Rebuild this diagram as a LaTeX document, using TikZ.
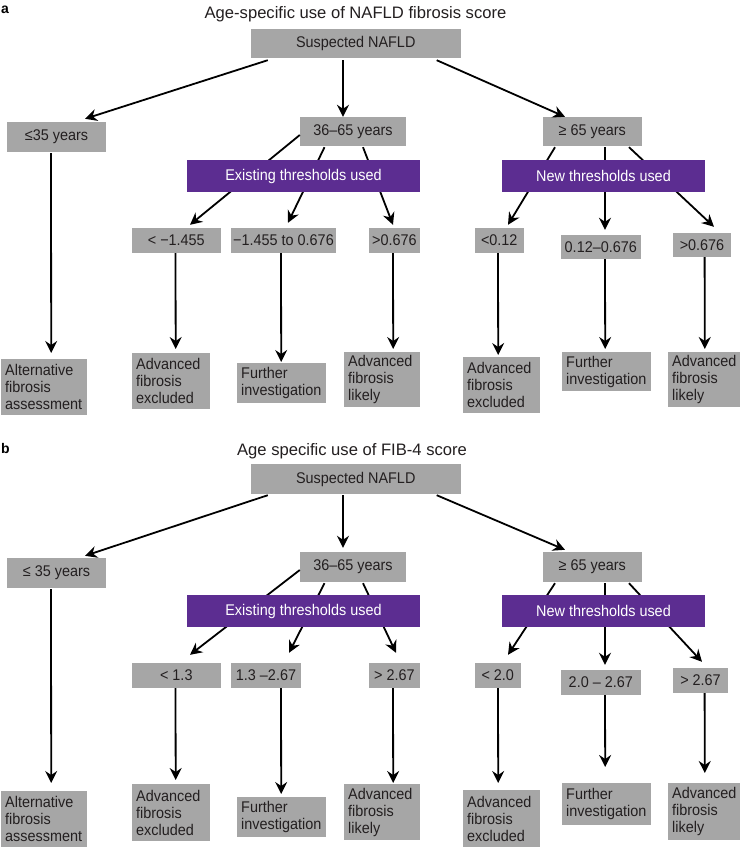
\documentclass[tikz,border=0pt]{standalone}
\usepackage{fontspec}
\setmainfont{Liberation Sans}[FakeStretch=0.93]
\newfontfamily\titlefont{Liberation Sans}
\usetikzlibrary{arrows.meta,calc}
\definecolor{boxgray}{HTML}{A6A6A6}
\definecolor{boxpurple}{HTML}{5C2D91}
\definecolor{txt}{HTML}{231F20}
\tikzset{
  gbox/.style={fill=boxgray, text=txt, inner sep=0pt, font=\fontsize{15.5}{17}\selectfont},
  pbox/.style={fill=boxpurple, text=white, inner sep=0pt, font=\fontsize{15.5}{17}\selectfont},
  rbox/.style={gbox, align=left, anchor=north west, inner xsep=4pt},
  arr/.style={line width=1.8pt, -{Stealth[length=12pt,width=12pt,inset=4pt]}},
  ttl/.style={font=\titlefont\fontsize{16.6}{19}\selectfont, text=txt},
  plabel/.style={font=\titlefont\bfseries\fontsize{14}{16}\selectfont, anchor=base west, text=black, inner sep=0pt}
}
\begin{document}
\begin{tikzpicture}[x=1pt,y=-1pt]
\useasboundingbox (0,0) rectangle (744,847);
\fill[white] (0,0) rectangle (744,847);

%% ---------------- Panel a ----------------
\node[plabel] (alab) at (1,13) {a};
\node[ttl] (atitle) at (355.5,14) {Age-specific use of NAFLD fibrosis score};
\node[gbox, minimum width=210.5pt, minimum height=29pt] (asus) at (355.75,43.5) {Suspected NAFLD};
\node[gbox, minimum width=99pt, minimum height=30pt] (ale) at (56.5,137) {≤35 years};
\node[gbox, minimum width=106pt, minimum height=29pt] (amid) at (353,131.5) {36–65 years};
\node[gbox, minimum width=98.5pt, minimum height=29pt] (age) at (592.25,131.5) {≥ 65 years};

\node[gbox, minimum width=88.6pt, minimum height=25pt] (at1) at (176.3,240.5) {< −1.455};
\node[gbox, minimum width=105pt, minimum height=25pt] (at2) at (283.5,240.5) {−1.455 to 0.676};
\node[gbox, minimum width=51.3pt, minimum height=25pt] (at3) at (394.35,240.5) {>0.676};
\node[gbox, minimum width=49.5pt, minimum height=25pt] (at4) at (499.25,240.5) {<0.12};
\node[gbox, minimum width=79.6pt, minimum height=24pt] (at5) at (600.8,247) {0.12–0.676};
\node[gbox, minimum width=58pt, minimum height=24pt] (at6) at (702,245) {>0.676};

\node[rbox, text width=78pt, minimum height=56pt] (ar0) at (1,359) {Alternative\\fibrosis\\assessment};
\node[rbox, text width=70pt, minimum height=56pt] (ar1) at (132,353) {Advanced\\fibrosis\\excluded};
\node[rbox, text width=81pt, minimum height=40pt] (ar2) at (237,363) {Further\\investigation};
\node[rbox, text width=68pt, minimum height=55pt] (ar3) at (344,352) {Advanced\\fibrosis\\likely};
\node[rbox, text width=69pt, minimum height=56pt] (ar4) at (463,357) {Advanced\\fibrosis\\excluded};
\node[rbox, text width=81pt, minimum height=39pt] (ar5) at (562,352) {Further\\investigation};
\node[rbox, text width=64pt, minimum height=55pt] (ar6) at (668,352) {Advanced\\fibrosis\\likely};

\draw[arr] ($(asus.south west)+(17.5,2)$) -- ($(ale.north)+(28.5,-3)$);
\draw[arr] ($(asus.south)+(-12.75,2)$) -- ($(amid.north)+(-10,0)$);
\draw[arr] ($(asus.south east)+(-24.5,2)$) -- ($(age.north)+(-27.25,0)$);

\draw[arr] ($(amid.west)+(0,3.5)$) -- ($(at1.north)+(13.7,-3)$);
\draw[arr] ($(amid.south)+(-28.5,1)$) -- ($(at2.north)+(4.5,-5)$);
\draw[arr] ($(amid.south)+(10,1)$) -- ($(at3.north)+(-1.35,-3)$);
\draw[arr] ($(age.south)+(-37.25,1)$) -- ($(at4.north)+(8.75,-3)$);
\draw[arr] ($(age.south)+(12.75,1)$) -- ($(at5.north)+(4.2,-5)$);
\draw[arr] ($(age.south)+(36.75,1)$) -- ($(at6.north)+(12,-6)$);

\node[pbox, minimum width=233pt, minimum height=32pt] (aex) at (303.5,176) {Existing thresholds used};
\node[pbox, minimum width=203pt, minimum height=32pt] (anw) at (603.5,176) {New thresholds used};

\draw[arr] ($(ale.south)+(-5.5,1)$) -- ($(ar0.north)+(7,-6)$);
\draw[arr] ($(at1.south)+(-0.8,0)$) -- ($(ar1.north)+(4.5,-4)$);
\draw[arr] ($(at2.south)+(-2.5,0)$) -- ($(ar2.north)+(-0.5,-1)$);
\draw[arr] ($(at3.south)+(-1.35,0)$) -- ($(ar3.north)+(11,-3)$);
\draw[arr] ($(at4.south)+(-1.25,0)$) -- ($(ar4.north)+(-3.5,-2)$);
\draw[arr] ($(at5.south)+(4.2,0)$) -- ($(ar5.north)+(-1.5,-3)$);
\draw[arr] ($(at6.south)+(2.6,0)$) -- ($(ar6.north)+(0.6,-3)$);

%% ---------------- Panel b ----------------
\node[plabel] (blab) at (1,453) {b};
\node[ttl] (btitle) at (352,451) {Age specific use of FIB-4 score};
\node[gbox, minimum width=210.5pt, minimum height=30pt] (bsus) at (355.75,479) {Suspected NAFLD};
\node[gbox, minimum width=99pt, minimum height=30pt] (ble) at (56.5,573) {≤ 35 years};
\node[gbox, minimum width=106pt, minimum height=30pt] (bmid) at (353,567) {36–65 years};
\node[gbox, minimum width=98.5pt, minimum height=30pt] (bge) at (592.25,567) {≥ 65 years};

\node[gbox, minimum width=88.6pt, minimum height=25pt] (bt1) at (176.3,675.5) {< 1.3};
\node[gbox, minimum width=70pt, minimum height=25pt] (bt2) at (266,675.5) {1.3 –2.67};
\node[gbox, minimum width=51.3pt, minimum height=25pt] (bt3) at (394.35,675.5) {> 2.67};
\node[gbox, minimum width=46.5pt, minimum height=25pt] (bt4) at (497.75,675.5) {< 2.0};
\node[gbox, minimum width=79.6pt, minimum height=25pt] (bt5) at (600.8,682.5) {2.0 – 2.67};
\node[gbox, minimum width=55pt, minimum height=25pt] (bt6) at (700.5,680.5) {> 2.67};

\node[rbox, text width=78pt, minimum height=56pt] (br0) at (1,791) {Alternative\\fibrosis\\assessment};
\node[rbox, text width=70pt, minimum height=57pt] (br1) at (132,784) {Advanced\\fibrosis\\excluded};
\node[rbox, text width=81pt, minimum height=40pt] (br2) at (237,797) {Further\\investigation};
\node[rbox, text width=68pt, minimum height=56pt] (br3) at (344,784) {Advanced\\fibrosis\\likely};
\node[rbox, text width=69pt, minimum height=57pt] (br4) at (463,790) {Advanced\\fibrosis\\excluded};
\node[rbox, text width=81pt, minimum height=42pt] (br5) at (562,783) {Further\\investigation};
\node[rbox, text width=64pt, minimum height=57pt] (br6) at (668,783) {Advanced\\fibrosis\\likely};

\draw[arr] ($(bsus.south west)+(17.5,1)$) -- ($(ble.north)+(28.5,-2)$);
\draw[arr] ($(bsus.south)+(-12.75,1)$) -- ($(bmid.north)+(-10,-4)$);
\draw[arr] ($(bsus.south east)+(-24.5,1)$) -- ($(bge.north)+(-27.25,-2)$);

\draw[arr] ($(bmid.west)+(0,3)$) -- ($(bt1.north)+(13.7,-8)$);
\draw[arr] ($(bmid.south)+(-28.5,1)$) -- ($(bt2.north)+(23,-10)$);
\draw[arr] ($(bmid.south)+(10,1)$) -- ($(bt3.north)+(1.65,-10)$);
\draw[arr] ($(bge.south)+(-37.25,1)$) -- ($(bt4.north)+(10.25,-8)$);
\draw[arr] ($(bge.south)+(12.75,1)$) -- ($(bt5.north)+(4.2,-5)$);
\draw[arr] ($(bge.south)+(36.75,1)$) -- ($(bt6.north)+(1.5,-6)$);

\node[pbox, minimum width=233pt, minimum height=32pt] (bex) at (303.5,611) {Existing thresholds used};
\node[pbox, minimum width=203pt, minimum height=32pt] (bnw) at (603.5,611) {New thresholds used};

\draw[arr] ($(ble.south)+(-5.5,1)$) -- ($(br0.north)+(7,-8)$);
\draw[arr] ($(bt1.south)+(-0.8,0)$) -- ($(br1.north)+(4.5,-4)$);
\draw[arr] ($(bt2.south)+(15,0)$) -- ($(br2.north)+(-0.5,-3)$);
\draw[arr] ($(bt3.south)+(-1.35,0)$) -- ($(br3.north)+(11,-1)$);
\draw[arr] ($(bt4.south)+(0.25,0)$) -- ($(br4.north)+(-3.5,-7)$);
\draw[arr] ($(bt5.south)+(4.2,0)$) -- ($(br5.north)+(-1.5,-16)$);
\draw[arr] ($(bt6.south)+(4.1,0)$) -- ($(br6.north)+(0.6,-10)$);
\end{tikzpicture}
\end{document}
